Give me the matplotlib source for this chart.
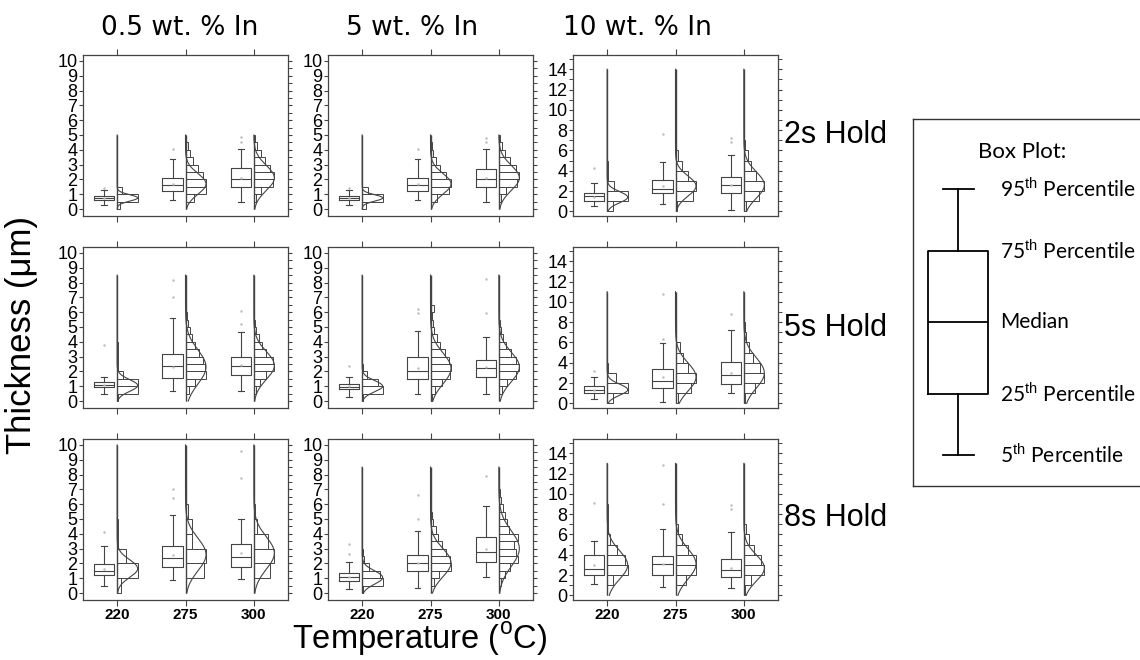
import numpy as np
import matplotlib.pyplot as plt
from matplotlib import font_manager
from matplotlib.ticker import MultipleLocator

plt.rcParams['font.family'] = ['Liberation Sans', 'DejaVu Sans']
plt.rcParams['mathtext.fontset'] = 'custom'
plt.rcParams['mathtext.rm'] = 'Liberation Sans'

installed = {f.name for f in font_manager.fontManager.ttflist}
tick_font = 'Liberation Sans Narrow' if 'Liberation Sans Narrow' in installed else 'Liberation Sans'

temps = ["220", "275", "300"]
compositions = ["0.5 wt. % In", "5 wt. % In", "10 wt. % In"]
holds = ["2s Hold", "5s Hold", "8s Hold"]

# box statistics, indexed [hold][composition][temperature]
p05 = [[[0.25, 0.6, 0.5], [0.25, 0.6, 0.45], [0.55, 0.7, 0.1]],
       [[0.5, 0.7, 0.7], [0.3, 0.5, 0.45], [0.4, 0.1, 1.0]],
       [[0.45, 0.85, 0.95], [0.3, 0.35, 1.05], [1.15, 0.85, 0.7]]]
q1 = [[[0.63, 1.2, 1.5], [0.6, 1.2, 1.5], [1.0, 1.8, 1.8]],
      [[0.95, 1.55, 1.75], [0.8, 1.5, 1.65], [1.0, 1.55, 1.9]],
      [[1.2, 1.75, 1.75], [0.8, 1.5, 2.1], [2.0, 2.0, 1.8]]]
med = [[[0.76, 1.6, 2.0], [0.75, 1.6, 2.0], [1.5, 2.2, 2.6]],
       [[1.1, 2.35, 2.35], [0.95, 2.05, 2.25], [1.35, 2.25, 2.8]],
       [[1.5, 2.35, 2.45], [1.05, 2.05, 2.8], [2.6, 3.1, 2.5]]]
q3 = [[[0.9, 2.1, 2.75], [0.88, 2.1, 2.7], [1.8, 3.1, 3.4]],
      [[1.3, 3.2, 2.95], [1.15, 2.95, 2.8], [1.7, 3.4, 4.1]],
      [[1.95, 3.2, 3.3], [1.35, 2.6, 3.8], [4.0, 3.9, 3.6]]]
p95 = [[[1.3, 3.4, 4.05], [1.3, 3.4, 4.05], [2.8, 4.9, 5.6]],
       [[1.65, 5.6, 4.65], [1.65, 4.7, 4.35], [2.6, 5.9, 7.2]],
       [[3.2, 5.25, 5.0], [2.1, 4.2, 5.9], [5.4, 6.5, 6.2]]]
outliers = [[[[1.45], [4.05], [4.5, 4.85]], [[1.45], [4.05], [4.5, 4.8]], [[4.3], [7.6], [6.8, 7.2]]],
            [[[3.8], [7.0, 8.2], [5.2, 6.05]], [[2.35], [5.95, 6.2], [5.95, 8.25]], [[3.2], [6.3, 10.8], [8.8]]],
            [[[4.1], [6.4, 7.0], [7.8, 9.6]], [[2.65, 3.3], [5.0, 6.6], [7.9]], [[9.1], [9.0, 12.8], [8.5, 8.9]]]]

# normal fit of each distribution
fit_mean = [[[0.75, 1.7, 2.1], [0.75, 1.7, 2.1], [1.4, 2.5, 2.6]],
            [[1.05, 2.3, 2.4], [1.0, 2.2, 2.3], [1.35, 2.6, 3.0]],
            [[1.65, 2.6, 2.7], [1.05, 2.05, 3.0], [3.0, 3.1, 2.7]]]
fit_sd = [[[0.22, 0.7, 0.85], [0.22, 0.7, 0.85], [0.55, 1.0, 1.3]],
          [[0.4, 1.15, 0.95], [0.38, 1.05, 1.0], [0.55, 1.4, 1.5]],
          [[0.6, 1.1, 1.1], [0.45, 0.95, 1.2], [1.4, 1.5, 1.3]]]

# histograms (relative bar lengths, bins start at 0)
hist_bin = [[0.5, 0.5, 1.0], [0.5, 0.5, 1.0], [1.0, 0.5, 1.0]]
hist_top = [[5, 5, 14], [8.5, 8.5, 11], [10, 8.5, 13]]
hist = [
    [[[0.16, 1.0, 0.25],
      [0.03, 0.4, 1.0, 1.0, 0.85, 0.6, 0.35, 0.2, 0.1, 0.03],
      [0.03, 0.1, 0.35, 0.95, 1.0, 0.8, 0.55, 0.35, 0.15, 0.05]],
     [[0.2, 1.0, 0.3],
      [0.03, 0.3, 0.9, 1.0, 0.75, 0.45, 0.25, 0.12, 0.05, 0.02],
      [0.02, 0.1, 0.35, 0.9, 1.0, 0.85, 0.55, 0.3, 0.15, 0.05]],
     [[0.3, 1.0, 0.35, 0.02, 0.02],
      [0.05, 0.85, 1.0, 0.6, 0.3, 0.12, 0.03, 0.02],
      [0.1, 0.75, 1.0, 0.6, 0.35, 0.2, 0.05, 0.02]]],
    [[[0.05, 1.0, 1.0, 0.3, 0.05, 0.02, 0.02, 0.02],
      [0.02, 0.15, 0.45, 1.0, 0.95, 0.85, 0.65, 0.45, 0.3, 0.2, 0.1, 0.05, 0.03, 0.02, 0.02, 0.01, 0.01],
      [0.02, 0.1, 0.3, 0.6, 1.0, 0.95, 0.6, 0.4, 0.25, 0.12, 0.05, 0.03, 0.02]],
     [[0.05, 1.0, 0.75, 0.25, 0.05],
      [0.05, 0.2, 0.55, 0.95, 1.0, 0.9, 0.7, 0.45, 0.3, 0.15, 0.1, 0.05, 0.15, 0.02],
      [0.03, 0.15, 0.4, 0.85, 1.0, 0.85, 0.6, 0.35, 0.2, 0.1, 0.05, 0.03, 0.02, 0.02, 0.01, 0.01, 0.01]],
     [[0.3, 1.0, 0.45, 0.05],
      [0.1, 0.75, 1.0, 0.6, 0.35, 0.2, 0.03, 0.02, 0.01, 0.01, 0.01],
      [0.05, 0.55, 1.0, 0.8, 0.45, 0.25, 0.12, 0.05, 0.03, 0.01, 0.01]]],
    [[[0.2, 1.0, 0.45, 0.03, 0.02],
      [0.0, 0.9, 1.0, 0.3, 0.3, 0.1, 0.03, 0.02],
      [0.0, 0.8, 1.0, 0.7, 0.15, 0.05, 0.02, 0.02, 0.01, 0.01]],
     [[0.05, 1.0, 0.85, 0.35, 0.1, 0.02, 0.01],
      [0.03, 0.15, 0.4, 1.0, 0.95, 0.75, 0.55, 0.35, 0.25, 0.12, 0.06, 0.03, 0.02, 0.01],
      [0.02, 0.1, 0.3, 0.55, 0.95, 0.85, 0.75, 0.95, 0.5, 0.4, 0.3, 0.2, 0.1, 0.05, 0.03, 0.02]],
     [[0.0, 0.3, 1.0, 0.85, 0.5, 0.15, 0.03, 0.02, 0.02, 0.01],
      [0.0, 0.5, 1.0, 1.0, 0.6, 0.3, 0.12, 0.03, 0.02, 0.02],
      [0.05, 0.35, 1.0, 0.85, 0.5, 0.25, 0.1, 0.03, 0.02]]],
]

W, H = 1140, 660
fig = plt.figure(figsize=(W / 100, H / 100), dpi=100)

col_left = [83, 328, 573]
row_top = [55, 247, 439]
ax_w, ax_h = 205, 161
line_c = "#444444"
hist_len = 0.3


def px_axes(left, top, w, h):
    return fig.add_axes([left / W, 1 - (top + h) / H, w / W, h / H])


xs = np.arange(1, 4)
for r in range(3):
    for c in range(3):
        ax = px_axes(col_left[c], row_top[r], ax_w, ax_h)
        stats = []
        for t in range(3):
            stats.append(dict(whislo=p05[r][c][t], q1=q1[r][c][t], med=med[r][c][t],
                              q3=q3[r][c][t], whishi=p95[r][c][t],
                              fliers=outliers[r][c][t], mean=fit_mean[r][c][t]))
        ax.bxp(stats, positions=xs - 0.19, widths=0.3, capwidths=0.08,
               showmeans=True, manage_ticks=False,
               boxprops=dict(color=line_c, lw=0.8),
               whiskerprops=dict(color=line_c, lw=0.8),
               capprops=dict(color=line_c, lw=0.8),
               medianprops=dict(color=line_c, lw=0.8),
               meanprops=dict(marker='.', markersize=1.5, markerfacecolor='#bbbbbb',
                              markeredgecolor='#bbbbbb'),
               flierprops=dict(marker='.', markersize=1.5, markerfacecolor='#bbbbbb',
                               markeredgecolor='#bbbbbb', linestyle='none'))

        bw = hist_bin[r][c]
        top = hist_top[r][c]
        for t in range(3):
            counts = np.array(hist[r][c][t])
            edges = np.arange(len(counts)) * bw
            ax.barh(edges, counts * hist_len, height=bw, left=xs[t], align='edge',
                    color='white', edgecolor=line_c, lw=0.7)
            yy = np.linspace(0, top, 300)
            curve = np.exp(-0.5 * ((yy - fit_mean[r][c][t]) / fit_sd[r][c][t]) ** 2)
            ax.plot(xs[t] + hist_len * curve, yy, color=line_c, lw=0.8)
        ax.vlines(xs, 0, top, color=line_c, lw=1.0)

        ax.set_xlim(0.5, 3.5)
        ax.set_xticks(xs, temps)
        ax.tick_params(axis='x', top=True, bottom=True, direction='out', length=4,
                       width=0.8, color=line_c, labelbottom=(r == 2), pad=2)
        for lab in ax.get_xticklabels():
            lab.set_fontweight('bold')
            lab.set_fontsize(11)

        if c < 2:
            ax.set_ylim(-0.47, 10.4)
            ax.set_yticks(range(0, 11))
            ax.yaxis.set_minor_locator(MultipleLocator(0.5))
            ax.tick_params(axis='y', which='minor', left=False, right=True,
                           direction='out', length=3, width=0.7, color=line_c)
        else:
            ax.set_ylim(-0.45, 15.4)
            ax.set_yticks(range(0, 15, 2))
            ax.yaxis.set_minor_locator(MultipleLocator(1))
            ax.tick_params(axis='y', which='minor', left=True, right=True,
                           direction='out', length=3, width=0.7, color=line_c)
        ax.tick_params(axis='y', which='major', left=True, right=True, direction='out',
                       length=3, width=0.8, color=line_c, pad=1)
        for lab in ax.get_yticklabels():
            lab.set_fontfamily(tick_font)
            lab.set_fontsize(13)
        for sp in ax.spines.values():
            sp.set_color(line_c)
            sp.set_linewidth(0.9)

# column and row titles
title_x = [180, 412, 637]
for c in range(3):
    fig.text(title_x[c] / W, 1 - 28 / H, compositions[c], ha='center', va='center',
             fontsize=19, family=['DejaVu Sans'])
row_y = [135, 328, 518]
for r in range(3):
    fig.text(784 / W, 1 - row_y[r] / H, holds[r], ha='left', va='center', fontsize=22)

fig.text(22 / W, 1 - 335 / H, "Thickness (\u03bcm)", rotation=90, ha='center', va='center', fontsize=25)
fig.text(420 / W, 1 - 639 / H, r"Temperature ($^{\mathrm{o}}$C)", ha='center', va='center', fontsize=23.5)

# legend explaining the box plot
lax = fig.add_axes([913 / W, 1 - 486 / H, 240 / W, 367 / H])
lax.set_xlim(0, 240)
lax.set_ylim(0, 367)
lax.set_xticks([])
lax.set_yticks([])
for sp in lax.spines.values():
    sp.set_color("#333333")
    sp.set_linewidth(1.0)
leg_levels = [31, 92, 164, 235, 297]
lax.bxp([dict(whislo=leg_levels[0], q1=leg_levels[1], med=leg_levels[2],
              q3=leg_levels[3], whishi=leg_levels[4], fliers=[])],
        positions=[45], widths=60, capwidths=31, manage_ticks=False,
        boxprops=dict(color='black', lw=1.3), whiskerprops=dict(color='black', lw=1.3),
        capprops=dict(color='black', lw=1.3), medianprops=dict(color='black', lw=1.3))
leg_font = ['Lato', 'DejaVu Sans']
lax.text(65, 334, "Box Plot:", ha='left', va='center', fontsize=16, family=leg_font)
leg_labels = ["5$^{\\mathrm{th}}$ Percentile", "25$^{\\mathrm{th}}$ Percentile", "Median",
              "75$^{\\mathrm{th}}$ Percentile", "95$^{\\mathrm{th}}$ Percentile"]
for lvl, lab in zip(leg_levels, leg_labels):
    lax.text(87, lvl, lab, ha='left', va='center', fontsize=15, family=leg_font)

fig.savefig("out.png", dpi=100)
